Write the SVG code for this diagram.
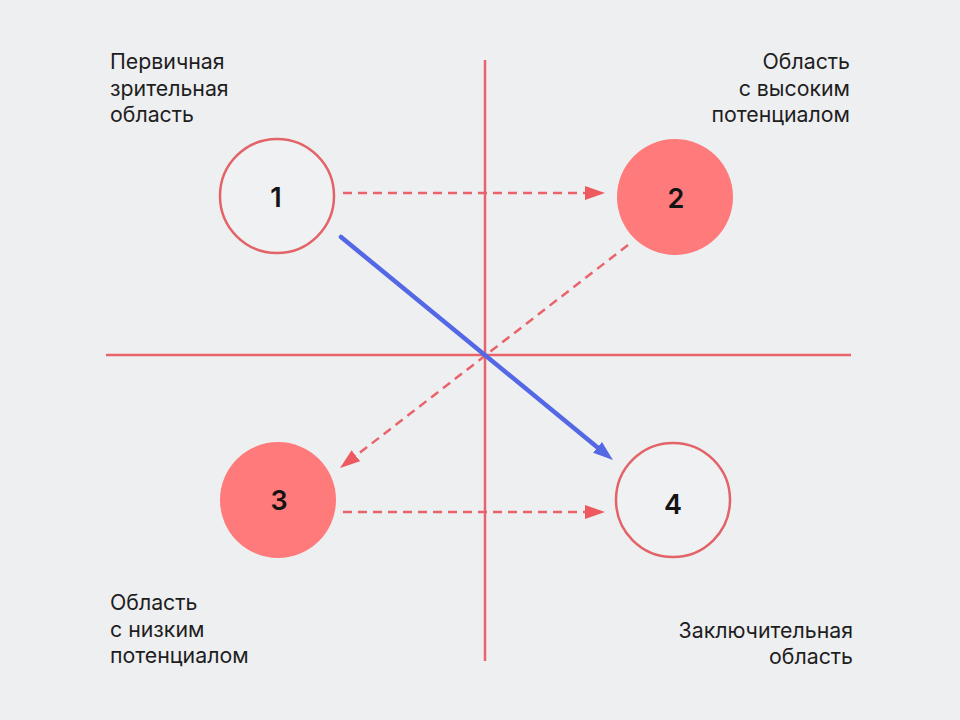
<svg xmlns="http://www.w3.org/2000/svg" width="960" height="720" viewBox="0 0 960 720">
  <style>
    .axis { stroke: #e8646a; stroke-width: 2.5; fill: none; }
    .dash { stroke: #e8646a; stroke-width: 2.5; fill: none; stroke-dasharray: 9 6; }
    .blue { stroke: #5468e6; stroke-width: 4.5; fill: none; stroke-linecap: round; }
    .ring { fill: #f0f1f3; stroke: #e26368; stroke-width: 2.5; }
    .solid { fill: #ff7a7a; }
    .num { font-family: Inter, "Noto Sans", sans-serif; font-size: 27px; font-weight: 600; fill: #141414; text-anchor: middle; }
    .lbl { font-family: Inter, "Noto Sans", sans-serif; font-size: 21.3px; fill: #1e1e1e; }
    .r { text-anchor: end; }
  </style>
  <defs>
    <marker id="ah-red" markerUnits="userSpaceOnUse" markerWidth="22" markerHeight="16" refX="4" refY="7" orient="auto">
      <path d="M0,0 L20,7 L0,14 z" fill="#ec5a60"/>
    </marker>
    <marker id="ah-blue" markerUnits="userSpaceOnUse" markerWidth="22" markerHeight="16" refX="4" refY="7" orient="auto">
      <path d="M0,0 L20,7 L0,14 z" fill="#5468e6"/>
    </marker>
  </defs>
  <rect width="960" height="720" fill="#eeeff1"/>
  <g id="axes">
    <line class="axis" x1="485" y1="60" x2="485" y2="661"/>
    <line class="axis" x1="106" y1="355" x2="851" y2="355"/>
  </g>
  <g id="connectors">
    <line class="dash" x1="343" y1="193" x2="589" y2="193" marker-end="url(#ah-red)"/>
    <line class="dash" x1="343" y1="512" x2="589" y2="512" marker-end="url(#ah-red)"/>
    <line class="dash" x1="628" y1="245" x2="352.7" y2="458.2" marker-end="url(#ah-red)"/>
    <line class="blue" x1="341" y1="237" x2="600.6" y2="449.9" marker-end="url(#ah-blue)"/>
  </g>
  <g id="node1">
    <circle class="ring" cx="277" cy="196" r="57"/>
    <text class="num" x="276" y="207">1</text>
  </g>
  <g id="node2">
    <circle class="solid" cx="675" cy="197" r="58"/>
    <text class="num" x="676" y="208">2</text>
  </g>
  <g id="node3">
    <circle class="solid" cx="278" cy="500" r="58"/>
    <text class="num" x="279" y="510">3</text>
  </g>
  <g id="node4">
    <circle class="ring" cx="673" cy="500" r="57"/>
    <text class="num" x="673" y="514">4</text>
  </g>
  <g id="labels">
    <text class="lbl" x="110" y="69">Первичная</text>
    <text class="lbl" x="110" y="96">зрительная</text>
    <text class="lbl" x="110" y="122">область</text>
    <text class="lbl r" x="850" y="69">Область</text>
    <text class="lbl r" x="850" y="96">с высоким</text>
    <text class="lbl r" x="850" y="122">потенциалом</text>
    <text class="lbl" x="110" y="610">Область</text>
    <text class="lbl" x="110" y="637">с низким</text>
    <text class="lbl" x="110" y="663">потенциалом</text>
    <text class="lbl r" x="853" y="638">Заключительная</text>
    <text class="lbl r" x="853" y="664">область</text>
  </g>
</svg>
